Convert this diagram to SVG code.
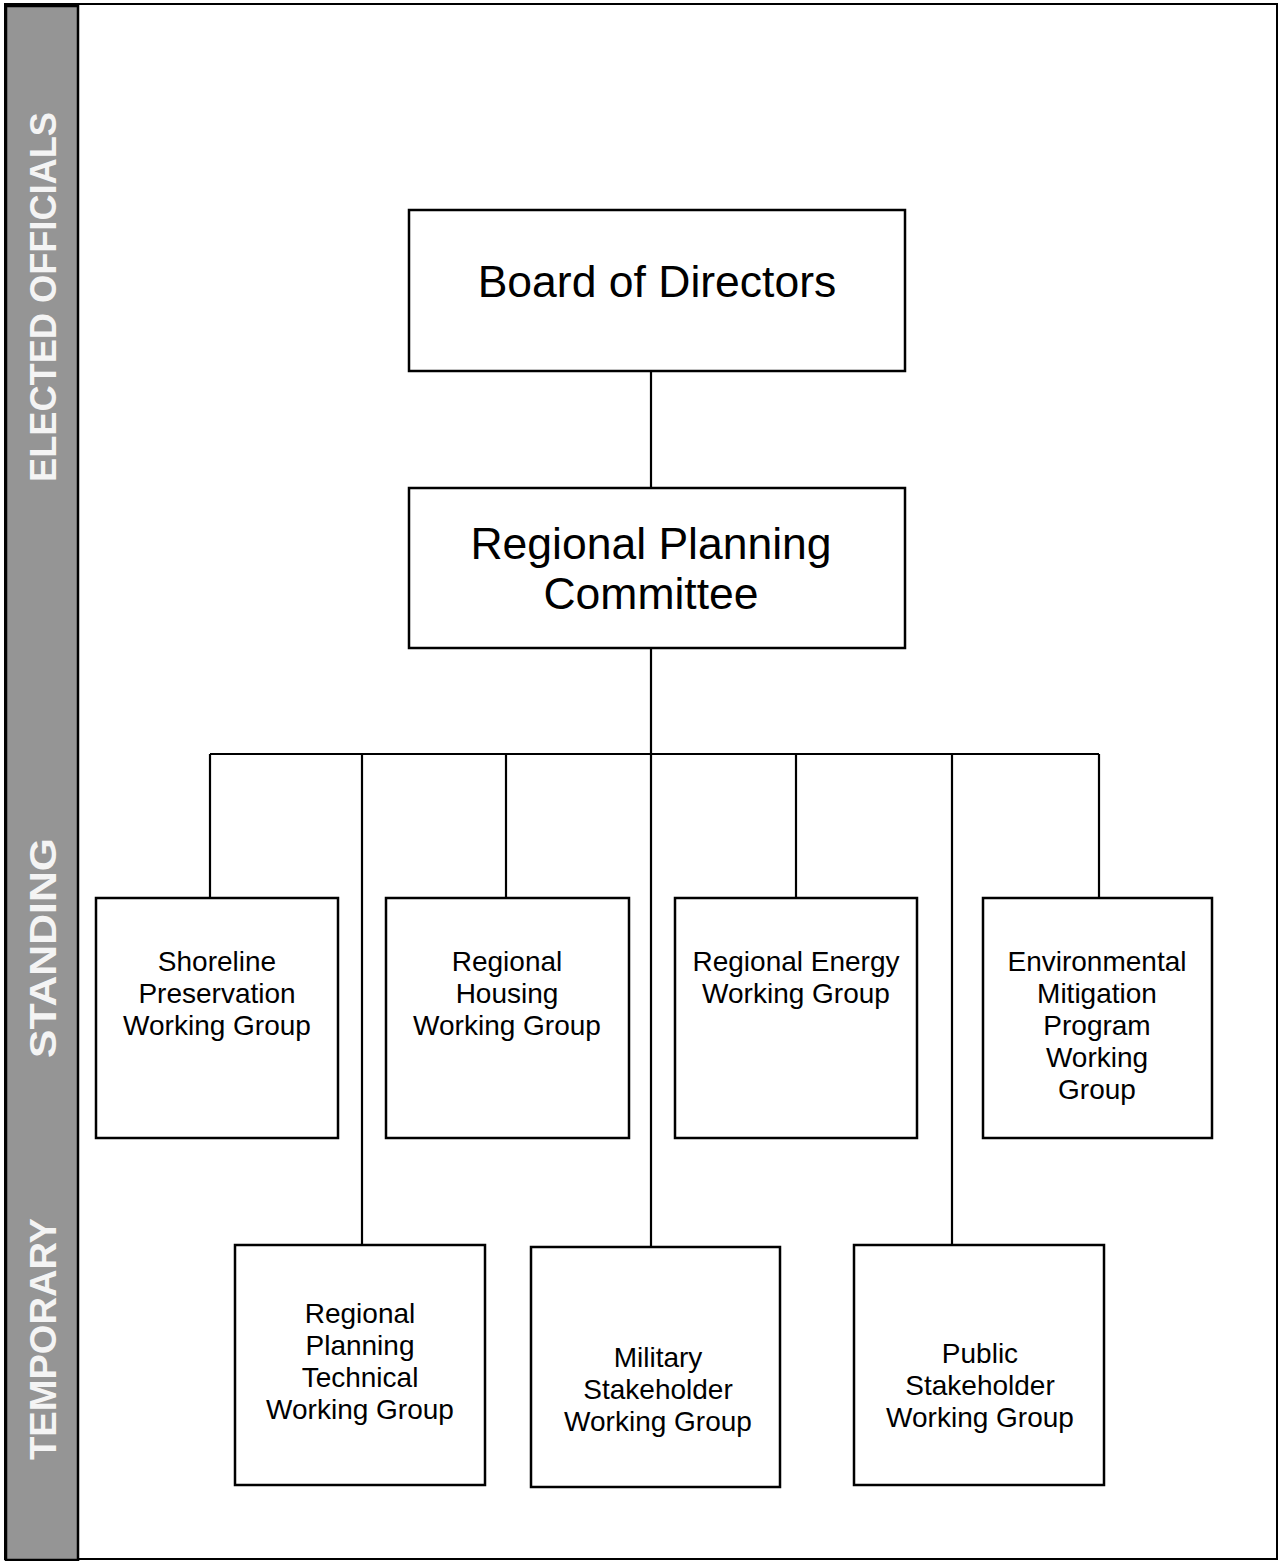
<svg xmlns="http://www.w3.org/2000/svg" width="1283" height="1561" viewBox="0 0 1283 1561">
<style>
.box{fill:#fff;stroke:#000;stroke-width:2.5}
.big{font-family:"Liberation Sans",Arial,sans-serif;font-size:44.5px;fill:#000;text-anchor:middle}
.sm{font-family:"Liberation Sans",Arial,sans-serif;font-size:28px;fill:#000;text-anchor:middle}
.side{font-family:"Liberation Sans",Arial,sans-serif;font-size:36px;font-weight:bold;fill:#f4f4f4;text-anchor:middle}
.con line{stroke:#000;stroke-width:2.2}
</style>
<rect x="0" y="0" width="1283" height="1561" fill="#fff"/>
<rect x="5" y="4" width="1272" height="1555" fill="none" stroke="#000" stroke-width="2"/>
<g id="band">
<rect x="6" y="6" width="72" height="1554" fill="#959595" stroke="#000" stroke-width="2.5"/>
<text class="side" transform="translate(56,297) rotate(-90)" textLength="370" lengthAdjust="spacingAndGlyphs">ELECTED OFFICIALS</text>
<text class="side" transform="translate(56,948) rotate(-90)" textLength="220" lengthAdjust="spacingAndGlyphs">STANDING</text>
<text class="side" transform="translate(56,1339) rotate(-90)" textLength="242" lengthAdjust="spacingAndGlyphs">TEMPORARY</text>
</g>
<g id="connectors" class="con">
<line x1="651" y1="371" x2="651" y2="488"/>
<line x1="651" y1="648" x2="651" y2="1247"/>
<line x1="210" y1="754" x2="1099" y2="754"/>
<line x1="210" y1="754" x2="210" y2="898"/>
<line x1="362" y1="754" x2="362" y2="1245"/>
<line x1="506" y1="754" x2="506" y2="898"/>
<line x1="796" y1="754" x2="796" y2="898"/>
<line x1="952" y1="754" x2="952" y2="1245"/>
<line x1="1099" y1="754" x2="1099" y2="898"/>
</g>
<g id="board">
<rect class="box" x="409" y="210" width="496" height="161"/>
<text class="big" x="657" y="297">Board of Directors</text>
</g>
<g id="rpc">
<rect class="box" x="409" y="488" width="496" height="160"/>
<text class="big" x="651" y="559">Regional Planning</text>
<text class="big" x="651" y="609">Committee</text>
</g>
<g id="shoreline">
<rect class="box" x="96" y="898" width="242" height="240"/>
<text class="sm" x="217" y="971">Shoreline</text>
<text class="sm" x="217" y="1003">Preservation</text>
<text class="sm" x="217" y="1035">Working Group</text>
</g>
<g id="housing">
<rect class="box" x="386" y="898" width="243" height="240"/>
<text class="sm" x="507" y="971">Regional</text>
<text class="sm" x="507" y="1003">Housing</text>
<text class="sm" x="507" y="1035">Working Group</text>
</g>
<g id="energy">
<rect class="box" x="675" y="898" width="242" height="240"/>
<text class="sm" x="796" y="971">Regional Energy</text>
<text class="sm" x="796" y="1003">Working Group</text>
</g>
<g id="environmental">
<rect class="box" x="983" y="898" width="229" height="240"/>
<text class="sm" x="1097" y="971">Environmental</text>
<text class="sm" x="1097" y="1003">Mitigation</text>
<text class="sm" x="1097" y="1035">Program</text>
<text class="sm" x="1097" y="1067">Working</text>
<text class="sm" x="1097" y="1099">Group</text>
</g>
<g id="technical">
<rect class="box" x="235" y="1245" width="250" height="240"/>
<text class="sm" x="360" y="1323">Regional</text>
<text class="sm" x="360" y="1355">Planning</text>
<text class="sm" x="360" y="1387">Technical</text>
<text class="sm" x="360" y="1419">Working Group</text>
</g>
<g id="military">
<rect class="box" x="531" y="1247" width="249" height="240"/>
<text class="sm" x="658" y="1367">Military</text>
<text class="sm" x="658" y="1399">Stakeholder</text>
<text class="sm" x="658" y="1431">Working Group</text>
</g>
<g id="public">
<rect class="box" x="854" y="1245" width="250" height="240"/>
<text class="sm" x="980" y="1363">Public</text>
<text class="sm" x="980" y="1395">Stakeholder</text>
<text class="sm" x="980" y="1427">Working Group</text>
</g>
</svg>
